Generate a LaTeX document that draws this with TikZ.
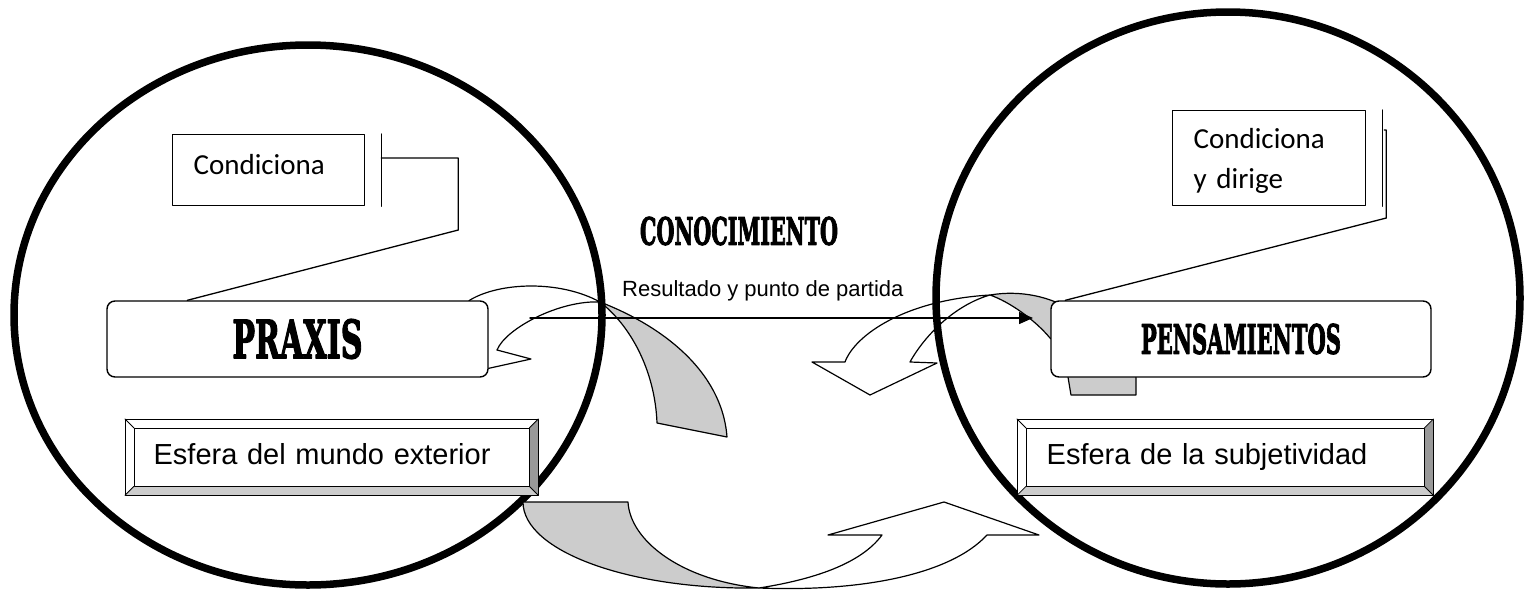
\documentclass[tikz,border=0pt]{standalone}
\usepackage{fontspec}
\setmainfont{Liberation Sans}
\newfontfamily\calibfont{Carlito}
\newfontfamily\titlefont[FakeBold=3]{DejaVu Serif}
\usetikzlibrary{calc,arrows.meta}
\definecolor{foldgray}{HTML}{CCCCCC}
\definecolor{edgegray}{HTML}{999999}
\tikzset
{
  sphere/.style={line width=7.5pt},
  notebox/.style={draw,line width=1.3pt,fill=white,anchor=north west,inner ysep=0pt,inner xsep=21pt,align=left,font=\calibfont\fontsize{29}{40}\selectfont},
  headbox/.style={draw,line width=1.4pt,fill=white,rounded corners=8pt,minimum width=381pt,minimum height=76pt,inner sep=0pt},
  bevelbox/.style={draw,line width=1.3pt,fill=white,anchor=north west,minimum height=75pt,inner ysep=0pt,align=left,text height=21pt,text depth=6pt,font=\fontsize{29}{34}\selectfont},
  ribbon/.style={draw,line width=1.2pt,fill=white},
  fold/.style={ribbon,fill=foldgray},
  callout/.style={line width=1.3pt}
}
\newcommand\bigword[3]{\resizebox{#1}{#2}{\titlefont\bfseries #3}}

\begin{document}
\begin{tikzpicture}[x=1pt,y=-1pt,line cap=round,line join=round]
  \useasboundingbox[fill=white] (0,0) rectangle (1535,590);
  % puntos de las flechas curvas
  \coordinate (pinchA) at (600,302);
  \coordinate (pinchB) at (990,295);
  \coordinate (pinchC) at (759,588);
  \coordinate (lineStart) at (530,318);
  \coordinate (lineEnd) at (1033,318);

  % flecha curva izquierda (hacia praxis)
  \draw[ribbon] (pinchA) .. controls (560,280) and (500,282) .. (470,300) -- (452,318) -- (425,345)
    -- (472,372) -- (531,359) -- (497,350) .. controls (506,328) and (560,300) .. (pinchA) -- cycle;
  \draw[fold] (pinchA) .. controls (660,325) and (722,370) .. (727,437) -- (657,423)
    .. controls (655,370) and (630,325) .. (pinchA) -- cycle;
  % flecha curva derecha (hacia abajo)
  \draw[ribbon] (pinchB) .. controls (905,300) and (855,335) .. (845,362) -- (812,362) -- (870,395)
    -- (937,363) -- (910,362) .. controls (925,335) and (955,305) .. (pinchB) -- cycle;
  \draw[fold] (pinchB) .. controls (1020,290) and (1050,296) .. (1075,312) -- (1136,377) -- (1136,395)
    -- (1071,395) -- (1068,377) -- (1060,345) -- (1050,338) .. controls (1035,320) and (1010,302) .. (pinchB) -- cycle;
  % resultado y punto de partida
  \draw[line width=1.4pt,-{Triangle[length=14pt,width=12pt]}] (lineStart) -- (lineEnd);

  % esferas
  \draw[sphere] (308,315) ellipse [x radius=294, y radius=270];
  \draw[sphere] (1228,298) ellipse [x radius=292, y radius=286];

  % flecha curva de abajo
  \draw[fold] (523,502) -- (628,502) .. controls (630,540) and (680,580) .. (pinchC)
    .. controls (629,590) and (523,551) .. (523,502) -- cycle;
  \draw[ribbon] (pinchC) .. controls (810,580) and (860,565) .. (882,535) -- (828,535) -- (944,502)
    -- (1039,535) -- (987,535) .. controls (950,575) and (860,592) .. (pinchC) -- cycle;

  % cuadros de texto
  \node[notebox,text width=150pt,text height=40pt,text depth=31pt] (condL) at (172,134) {Condiciona};
  \node[notebox,text width=151pt,text height=38pt,text depth=57pt] (condR) at (1172,110) {Condiciona\\y dirige};
  \node[headbox] (praxis) at (297.5,339) {\bigword{130pt}{39pt}{PRAXIS}};
  \node[headbox,minimum width=380pt] (pens) at (1241,339) {\bigword{200pt}{30pt}{PENSAMIENTOS}};
  \node[inner sep=0pt] (conoc) at (739,231) {\bigword{198pt}{28pt}{CONOCIMIENTO}};
  \node[inner sep=0pt,anchor=base west,font=\fontsize{22}{25}\selectfont] (result) at (622,296) {Resultado y punto de partida};
  \node[bevelbox,minimum width=412pt,text width=356pt,inner xsep=28pt] (extL) at (125,419) {Esfera del mundo exterior};
  \node[bevelbox,minimum width=415pt,text width=357pt,inner xsep=29pt] (extR) at (1017,419) {Esfera de la subjetividad};
  % biseles
  \foreach \b in {extL,extR}
  {
    \fill[edgegray] (\b.north east) -- (\b.south east) -- ($(\b.south east)+(-9,-9)$) -- ($(\b.north east)+(-9,9)$) -- cycle;
    \fill[foldgray] (\b.south west) -- (\b.south east) -- ($(\b.south east)+(-9,-9)$) -- ($(\b.south west)+(9,-9)$) -- cycle;
    \draw[line width=1pt] (\b.north west) rectangle (\b.south east);
    \draw[line width=1pt] ($(\b.north west)+(9,9)$) rectangle ($(\b.south east)+(-9,-9)$);
    \draw[line width=0.8pt] (\b.north west) -- ++(9,9) (\b.north east) -- ++(-9,9)
      (\b.south west) -- ++(9,-9) (\b.south east) -- ++(-9,-9);
  }

  % llamadas
  \draw[callout] ($(condL.north east)+(16,0)$) -- ($(condL.south east)+(16,0)$);
  \draw[callout] ($(condL.north east)+(16,24)$) -- ++(77,0) -- ++(0,72) -- ($(praxis.north west)+(81,0)$);
  \draw[callout] ($(condR.north east)+(16,0)$) -- ($(condR.south east)+(16,0)$);
  \draw[callout] ($(condR.north east)+(18,20)$) -- ++(2,0) -- ++(0,88) -- ($(pens.north west)+(15,0)$);
\end{tikzpicture}
\end{document}
